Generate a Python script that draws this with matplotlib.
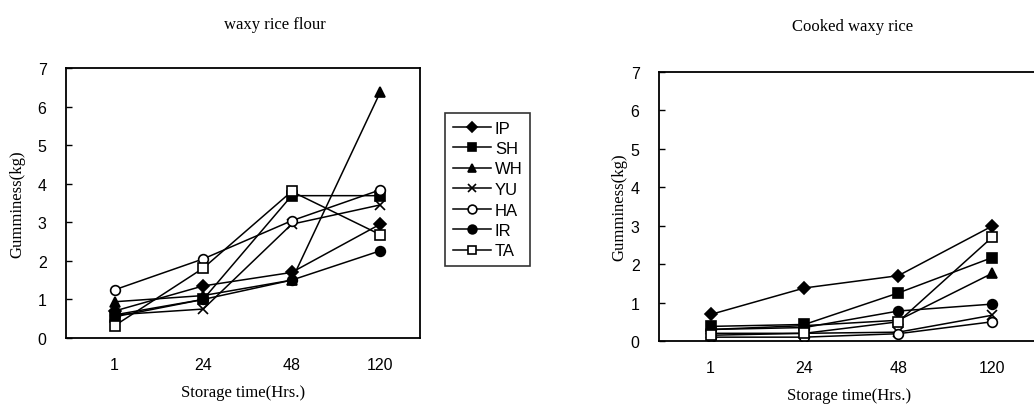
import matplotlib.pyplot as plt
import numpy as np

# storage time categories
times = ['1', '24', '48', '120']
varieties = ['IP', 'SH', 'WH', 'YU', 'HA', 'IR', 'TA']
markers = ['D', 's', '^', 'x', 'o', 'o', 's']
filled = [True, True, True, True, False, True, False]

# waxy rice flour, gumminess (kg)
flour_IP = [0.70, 1.35, 1.70, 2.95]
flour_SH = [0.55, 1.00, 3.69, 3.69]
flour_WH = [0.94, 1.10, 1.50, 6.37]
flour_YU = [0.60, 0.75, 2.95, 3.45]
flour_HA = [1.25, 2.05, 3.04, 3.84]
flour_IR = [0.60, 1.00, 1.50, 2.26]
flour_TA = [0.32, 1.81, 3.80, 2.68]

# cooked waxy rice, gumminess (kg)
cooked_IP = [0.69, 1.38, 1.70, 2.99]
cooked_SH = [0.38, 0.43, 1.25, 2.17]
cooked_WH = [0.30, 0.40, 0.54, 1.76]
cooked_YU = [0.20, 0.20, 0.23, 0.67]
cooked_HA = [0.10, 0.10, 0.19, 0.50]
cooked_IR = [0.30, 0.35, 0.78, 0.96]
cooked_TA = [0.15, 0.20, 0.50, 2.70]

flour = [flour_IP, flour_SH, flour_WH, flour_YU, flour_HA, flour_IR, flour_TA]
cooked = [cooked_IP, cooked_SH, cooked_WH, cooked_YU, cooked_HA, cooked_IR, cooked_TA]

SERIF = ['Liberation Serif', 'DejaVu Serif']
SANS = ['Liberation Sans', 'DejaVu Sans']

fig = plt.figure(figsize=(10.34, 4.10), dpi=100)
W, H = 1034, 410
ax1 = fig.add_axes([66 / W, 1 - 339 / H, (420 - 66) / W, (339 - 69) / H])
ax2 = fig.add_axes([659 / W, 1 - 342 / H, (1040 - 659) / W, (342 - 73) / H])

x = np.arange(len(times))


def draw(ax, data):
    handles = []
    for name, vals, m, f in zip(varieties, data, markers, filled):
        ms = 6 if m == 'D' else 7
        h, = ax.plot(x, vals, color='black', lw=1.1, marker=m, ms=ms,
                     markerfacecolor='black' if f else 'white',
                     markeredgecolor='black', markeredgewidth=1.2,
                     label=name)
        handles.append(h)
    ax.set_ylim(0, 7)
    ax.set_xlim(-0.55, 3.45)
    ax.set_yticks(range(8))
    ax.set_xticks(x)
    ax.set_xticklabels(times)
    ax.tick_params(axis='y', direction='in', length=4, width=1, pad=14)
    ax.tick_params(axis='x', length=0, pad=14)
    for lab in ax.get_xticklabels() + ax.get_yticklabels():
        lab.set_family(SANS)
        lab.set_fontsize(11.5)
    for s in ax.spines.values():
        s.set_linewidth(1.3)
    ax.set_ylabel('Gumminess(kg)', family=SERIF, fontsize=12)
    ax.set_xlabel('Storage time(Hrs.)', family=SERIF, fontsize=12, labelpad=8)
    return handles


handles = draw(ax1, flour)
draw(ax2, cooked)
ax2.set_xlim(-0.55, 3.45 + (1040 - 1034) / 100)
ax2.spines['right'].set_visible(False)

ax1.yaxis.set_label_coords(-0.116, 0.5)
ax2.yaxis.set_label_coords(-0.084, 0.5)

fig.text(275 / W, 1 - 25 / H, 'waxy rice flour', family=SERIF, fontsize=12,
         ha='center', va='center')
fig.text(853 / W, 1 - 27 / H, 'Cooked waxy rice', family=SERIF, fontsize=12,
         ha='center', va='center')

leg = fig.legend(handles, varieties, loc='upper left',
                 bbox_to_anchor=(445 / W, 1 - 114 / H), borderaxespad=0,
                 prop={'family': SANS, 'size': 12}, frameon=True,
                 fancybox=False, edgecolor='black', handlelength=2.3,
                 handletextpad=0.25, labelspacing=0.33, borderpad=0.45,
                 markerscale=0.9)
leg.get_frame().set_linewidth(1.2)

fig.savefig('out.png', dpi=100)
